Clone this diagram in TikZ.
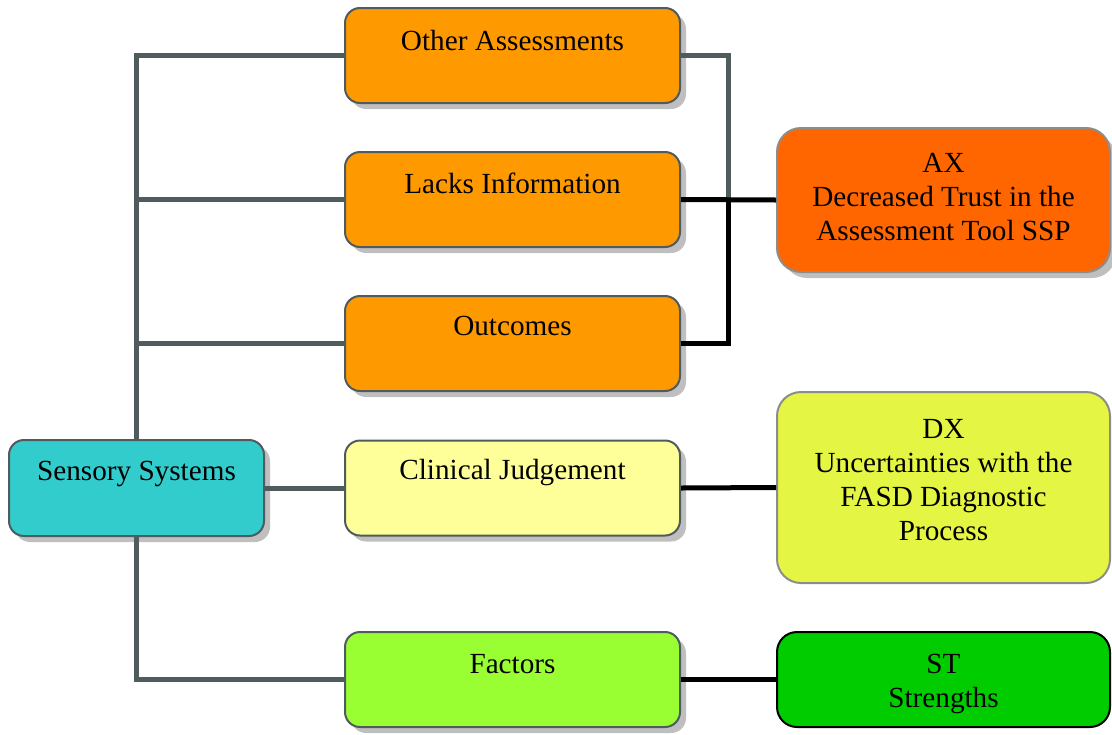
\documentclass[tikz,border=0pt]{standalone}
\usepackage{fontspec}
\setmainfont{Liberation Serif}
\usetikzlibrary{shadows}

\definecolor{linegray}{HTML}{4F5B5C}
\definecolor{sensfill}{HTML}{33CCCC}
\definecolor{midorange}{HTML}{FF9900}
\definecolor{axfill}{HTML}{FF6600}
\definecolor{clinfill}{HTML}{FFFF99}
\definecolor{dxfill}{HTML}{E5F543}
\definecolor{factfill}{HTML}{99FF33}
\definecolor{stfill}{HTML}{00CC00}

\tikzset{
  box/.style={draw=linegray, line width=1pt, rounded corners=7.5pt,
              minimum width=167.5pt, minimum height=47.5pt, inner sep=0pt},
  boxshadow/.style={drop shadow={shadow xshift=3pt, shadow yshift=-3pt,
              fill=black!25, opacity=1}},
  bigbox/.style={draw=black!45, line width=1pt, rounded corners=12pt,
              minimum width=166.5pt, inner sep=0pt},
  txt/.style={anchor=base, align=center, inner sep=0pt,
              font=\fontsize{14.6}{17}\selectfont},
  link/.style={line width=2.5pt, draw=linegray},
  blink/.style={line width=2.5pt, draw=black},
}

\begin{document}
\begin{tikzpicture}[x=0.5pt, y=-0.5pt]
    \useasboundingbox (0,0) rectangle (1112,734);

    % left column
    \node[box, boxshadow, fill=sensfill, minimum width=127.5pt, minimum height=48pt] (sens) at (136.5,488) {};
    \node[txt] (sensT) at (136.5,480) {Sensory Systems};

    % middle column
    \node[box, boxshadow, fill=midorange] (oth) at (512.5,55.5) {};
    \node[txt] (othT) at (512.5,50) {Other Assessments};
    \node[box, boxshadow, fill=midorange] (lack) at (512.5,199.5) {};
    \node[txt] (lackT) at (512.5,193) {Lacks Information};
    \node[box, boxshadow, fill=midorange] (outc) at (512.5,343.5) {};
    \node[txt] (outcT) at (512.5,335) {Outcomes};
    \node[box, boxshadow, fill=clinfill] (clin) at (512.5,488) {};
    \node[txt] (clinT) at (512.5,479) {Clinical Judgement};
    \node[box, boxshadow, fill=factfill] (fact) at (512.5,679.5) {};
    \node[txt] (factT) at (512.5,673) {Factors};

    % right column (base = last line)
    \node[bigbox, boxshadow, fill=axfill, minimum height=72pt] (ax) at (943.5,200) {};
    \node[txt] (axT) at (943.5,240) {AX\\Decreased Trust in the\\Assessment Tool SSP};
    \node[bigbox, fill=dxfill, minimum height=95.5pt] (dx) at (943.5,487.5) {};
    \node[txt] (dxT) at (943.5,540) {DX\\Uncertainties with the\\FASD Diagnostic\\Process};
    \node[bigbox, draw=black, rounded corners=10pt, fill=stfill, minimum height=47.5pt] (st) at (943.5,679.5) {};
    \node[txt] (stT) at (943.5,707) {ST\\Strengths};

    \coordinate (bus) at (728,199.5);

    \draw[link] (sens.north) |- (oth.west);
    \draw[link] (sens.north) |- (lack.west);
    \draw[link] (sens.north) |- (outc.west);
    \draw[link] (sens.south) |- (fact.west);
    \draw[link] (sens.east) -- (clin.west);
    \draw[link] (oth.east) -| (bus);
    \draw[blink] (outc.east) -| (bus);
    \draw[blink] (lack.east) -- (ax.west);
    \draw[blink] (clin.east) -- (dx.west);
    \draw[blink] (fact.east) -- (st.west);
\end{tikzpicture}
\end{document}
